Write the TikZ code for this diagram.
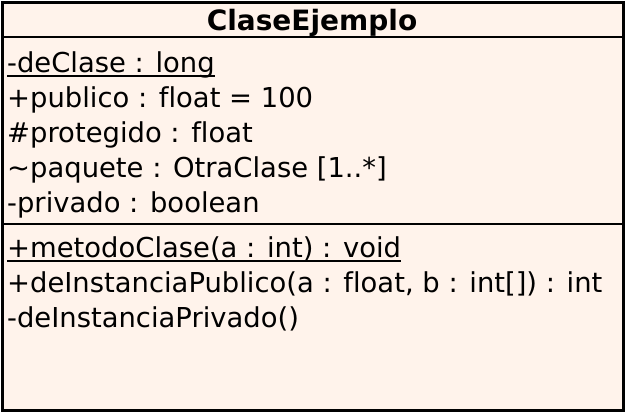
\documentclass[tikz,border=0pt]{standalone}
\usepackage{fontspec}
\setmainfont[Ligatures={NoCommon}]{DejaVu Sans}
\begin{document}
\begin{tikzpicture}[x=1pt,y=-1pt,
  txt/.style={anchor=base west,inner sep=0pt,font=\fontsize{27.4}{32}\selectfont},
  ul/.style={line width=2pt}]
\definecolor{umlfill}{RGB}{255,243,235}
\useasboundingbox (0,0) rectangle (626,413);
\draw[line width=2.6pt,fill=umlfill] (2.5,2.5) rectangle (623.5,410.5);
\draw[line width=2.6pt] (2.5,37) -- (623.5,37);
\draw[line width=2.6pt] (2.5,224) -- (623.5,224);
\node[anchor=base,inner sep=0pt,font=\fontsize{28}{32}\selectfont\bfseries] (title) at (312,30) {ClaseEjemplo};
\node[txt] (a1) at (7,72) {-deClase : long};
\node[txt] (a2) at (7,107) {+publico : float = 100};
\node[txt] (a3) at (7,142) {\#protegido : float};
\node[txt] (a4) at (7,177) {\char"223C paquete : OtraClase [1..*]};
\node[txt] (a5) at (7,212) {-privado : boolean};
\node[txt] (m1) at (7,257) {+metodoClase(a : int) : void};
\node[txt] (m2) at (7,292) {+deInstanciaPublico(a : float, b : int[]) : int};
\node[txt] (m3) at (7,327) {-deInstanciaPrivado()};
\draw[ul] ([yshift=-4pt]a1.base west) -- ([yshift=-4pt]a1.base east);
\draw[ul] ([yshift=-4pt]m1.base west) -- ([yshift=-4pt]m1.base east);
\end{tikzpicture}
\end{document}
